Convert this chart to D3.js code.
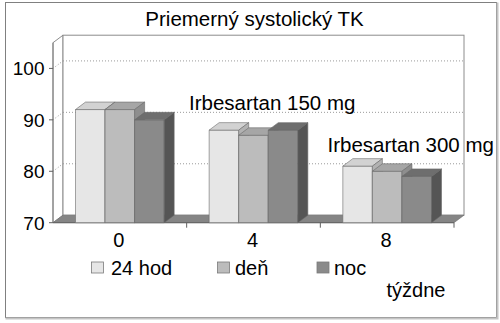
<!DOCTYPE html>
<html>
<head>
<meta charset="utf-8">
<script src="https://cdn.jsdelivr.net/npm/d3@7"></script>
<style>
  body { margin: 0; background: #fff; }
  text { font-family: "Liberation Sans", Arial, sans-serif; fill: #000; }
</style>
</head>
<body>
<script>
// data
var weeks = ["0", "4", "8"];
var seriesNames = ["24 hod", "deň", "noc"];
var hod24 = [92, 88, 81];
var den = [92, 87, 80];
var noc = [90, 88, 79];
var yTicks = [70, 80, 90, 100];

var values = [hod24, den, noc];
var frontColors = ["#e6e6e6", "#bcbcbc", "#8a8a8a"];
var topColors = ["#d2d2d2", "#a6a6a6", "#6e6e6e"];
var sideColors = ["#b2b2b2", "#8e8e8e", "#555555"];

var width = 500, height = 323;
var plotLeft = 53, plotRight = 454, plotBottom = 222.7, plotTop = 42.7;
var dx = 10, dy = 7.5; // depth offset of the 3d box

var svg = d3.select("body").append("svg")
  .attr("width", width)
  .attr("height", height);

// outer frame
svg.append("rect")
  .attr("x", 5.5).attr("y", 2.5)
  .attr("width", 491).attr("height", 315)
  .attr("fill", "#fff")
  .attr("stroke", "#808080");
svg.append("path")
  .attr("d", "M497.5,2.5 L497.5,318.5 L5.5,318.5")
  .attr("fill", "none")
  .attr("stroke", "#c4c4c4")
  .attr("stroke-width", 2);

var y = d3.scaleLinear().domain([70, 105]).range([plotBottom, plotTop]);
var x0 = d3.scaleBand().domain(weeks).range([plotLeft, plotRight]);
var bw = x0.bandwidth();
var x1 = d3.scaleBand().domain(seriesNames).range([22.5, bw - 22.5]);

// walls and floor
svg.append("polygon")
  .attr("points", [[plotLeft, plotBottom], [plotLeft, plotTop], [plotLeft + dx, plotTop - dy], [plotLeft + dx, plotBottom - dy]].join(" "))
  .attr("fill", "#fff").attr("stroke", "#8c8c8c");
svg.append("rect")
  .attr("x", plotLeft + dx).attr("y", plotTop - dy)
  .attr("width", plotRight - plotLeft).attr("height", plotBottom - plotTop)
  .attr("fill", "#fff").attr("stroke", "#8c8c8c");
svg.append("polygon")
  .attr("points", [[plotLeft, plotBottom], [plotRight, plotBottom], [plotRight + dx, plotBottom - dy], [plotLeft + dx, plotBottom - dy]].join(" "))
  .attr("fill", "#858585").attr("stroke", "#707070").attr("stroke-width", 0.6);

// gridlines
var grid = svg.append("g")
  .attr("stroke", "#9a9a9a")
  .attr("stroke-dasharray", "1,2");
yTicks.slice(1).forEach(function(v) {
  grid.append("line")
    .attr("x1", plotLeft + dx).attr("x2", plotRight + dx)
    .attr("y1", y(v) - dy).attr("y2", y(v) - dy);
  grid.append("line")
    .attr("x1", plotLeft).attr("x2", plotLeft + dx)
    .attr("y1", y(v)).attr("y2", y(v) - dy);
});

// y axis
svg.append("line")
  .attr("x1", plotLeft).attr("x2", plotLeft)
  .attr("y1", plotTop).attr("y2", plotBottom)
  .attr("stroke", "#808080");
yTicks.forEach(function(v) {
  svg.append("line")
    .attr("x1", plotLeft - 4).attr("x2", plotLeft)
    .attr("y1", y(v)).attr("y2", y(v))
    .attr("stroke", "#606060");
  svg.append("text")
    .attr("x", 44.5).attr("y", y(v))
    .attr("dy", "0.36em")
    .attr("text-anchor", "end")
    .style("font-size", "19px")
    .text(v);
});

// x axis ticks
svg.append("line")
  .attr("x1", plotLeft).attr("x2", plotRight)
  .attr("y1", plotBottom).attr("y2", plotBottom)
  .attr("stroke", "#606060");
x0.domain().forEach(function(w, i) {
  svg.append("line")
    .attr("x1", x0(w) + bw).attr("x2", x0(w) + bw)
    .attr("y1", plotBottom).attr("y2", plotBottom + 5)
    .attr("stroke", "#606060");
  svg.append("text")
    .attr("x", x0(w) + bw / 2 - 1).attr("y", 247)
    .attr("text-anchor", "middle")
    .style("font-size", "20px")
    .text(w);
});

// 3d bars
var bars = svg.append("g")
  .attr("stroke", "#6a6a6a")
  .attr("stroke-width", 0.6)
  .attr("stroke-linejoin", "round");
weeks.forEach(function(w, i) {
  seriesNames.forEach(function(s, j) {
    var bx = x0(w) + x1(s), b = x1.bandwidth();
    var by = y(values[j][i]);
    bars.append("rect")
      .attr("x", bx).attr("y", by)
      .attr("width", b).attr("height", plotBottom - by)
      .attr("fill", frontColors[j]);
    bars.append("polygon")
      .attr("points", [[bx, by], [bx + dx, by - dy], [bx + b + dx, by - dy], [bx + b, by]].join(" "))
      .attr("fill", topColors[j]);
    bars.append("polygon")
      .attr("points", [[bx + b, by], [bx + b + dx, by - dy], [bx + b + dx, plotBottom - dy], [bx + b, plotBottom]].join(" "))
      .attr("fill", sideColors[j]);
  });
});

// title and annotations
svg.append("text")
  .attr("x", 254.5).attr("y", 26)
  .attr("text-anchor", "middle")
  .style("font-size", "20.5px")
  .text("Priemerný systolický TK");
svg.append("text")
  .attr("x", 189).attr("y", 110)
  .style("font-size", "20.5px")
  .text("Irbesartan 150 mg");
svg.append("text")
  .attr("x", 327.5).attr("y", 152)
  .style("font-size", "20.5px")
  .text("Irbesartan 300 mg");

// legend
var legendX = [91, 217, 316.5];
var legendTextX = [111, 235, 334];
seriesNames.forEach(function(s, j) {
  svg.append("rect")
    .attr("x", legendX[j] + 0.5).attr("y", 262)
    .attr("width", 12).attr("height", 11)
    .attr("fill", frontColors[j])
    .attr("stroke", "#7a7a7a")
    .attr("stroke-width", 0.8);
  svg.append("text")
    .attr("x", legendTextX[j]).attr("y", 275)
    .style("font-size", "20px")
    .text(s);
});

svg.append("text")
  .attr("x", 386.5).attr("y", 296.5)
  .style("font-size", "20px")
  .text("týždne");
</script>
</body>
</html>
